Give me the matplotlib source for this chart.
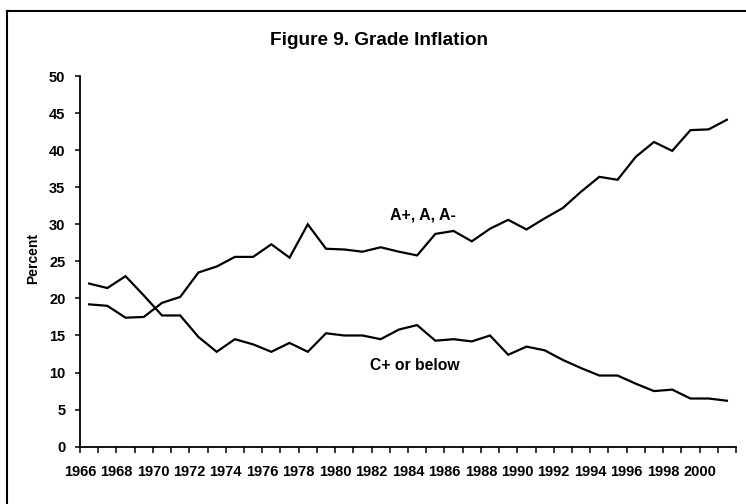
import matplotlib
matplotlib.use("Agg")
import matplotlib.pyplot as plt
from matplotlib.lines import Line2D

# ---- data ----
years = list(range(1966, 2002))
a_grades = [19.2, 19.0, 17.4, 17.5, 19.4, 20.2, 23.5, 24.3, 25.6, 25.6,
            27.3, 25.5, 30.0, 26.7, 26.6, 26.3, 26.9, 26.3, 25.8, 28.7,
            29.1, 27.7, 29.4, 30.6, 29.3, 30.8, 32.2, 34.4, 36.4, 36.0,
            39.1, 41.1, 39.9, 42.7, 42.8, 44.1]
c_grades = [22.0, 21.4, 23.0, 20.4, 17.7, 17.7, 14.8, 12.8, 14.5, 13.8,
            12.8, 14.0, 12.8, 15.3, 15.0, 15.0, 14.5, 15.8, 16.4, 14.3,
            14.5, 14.2, 15.0, 12.4, 13.5, 13.0, 11.7, 10.6, 9.6, 9.6,
            8.5, 7.5, 7.7, 6.5, 6.5, 6.2]
tick_years = list(range(1966, 2003))
label_years = list(range(1966, 2001, 2))
y_ticks = [0, 5, 10, 15, 20, 25, 30, 35, 40, 45, 50]
title = "Figure 9. Grade Inflation"
ylabel = "Percent"
label_a = "A+, A, A-"
label_c = "C+ or below"

plt.rcParams['font.family'] = ['Liberation Sans', 'DejaVu Sans']
plt.rcParams['font.weight'] = 'bold'

W, H = 746, 504
fig = plt.figure(figsize=(W / 100, H / 100), dpi=100)
ax = fig.add_axes([80 / W, 1 - 446.7 / H, (736 - 80) / W, (446.7 - 76) / H])

xs = [y + 0.5 for y in years]
ax.plot(xs, a_grades, color='black', lw=1.6, solid_joinstyle='miter')
ax.plot(xs, c_grades, color='black', lw=1.6, solid_joinstyle='miter')

ax.set_xlim(1966, 2002)
ax.set_ylim(0, 50)
ax.set_xticks(tick_years)
ax.set_xticklabels([str(y) if y in label_years else "" for y in tick_years])
ax.set_yticks(y_ticks)
ax.set_yticklabels([str(v) for v in y_ticks])

for s in ['top', 'right']:
    ax.spines[s].set_visible(False)
for s in ['left', 'bottom']:
    ax.spines[s].set_linewidth(1.3)
    ax.spines[s].set_color('black')

ax.tick_params(axis='x', direction='out', length=4, width=1.1, pad=9,
               labelsize=10.5, colors='black')
ax.tick_params(axis='y', direction='out', length=3.5, width=1.1, pad=7,
               labelsize=10.5, colors='black')
for lab in ax.get_xticklabels() + ax.get_yticklabels():
    lab.set_fontweight('bold')

ax.text(1984.8, 30.6, label_a, ha='center', va='baseline', fontsize=11.5,
        fontweight='bold')
ax.text(1984.4, 10.35, label_c, ha='center', va='baseline', fontsize=11.3,
        fontweight='bold')

fig.text(379 / W, 1 - 40.7 / H, title, ha='center', va='center',
         fontsize=13.7, fontweight='bold')
fig.text(33 / W, 1 - 258 / H, ylabel, ha='center', va='center',
         rotation=90, fontsize=10, fontweight='bold')

# outer frame (top and left edges visible)
fig.add_artist(Line2D([7 / W, 1.0], [1 - 11 / H, 1 - 11 / H],
                      transform=fig.transFigure, color='black', lw=1.5))
fig.add_artist(Line2D([7 / W, 7 / W], [0.0, 1 - 11 / H],
                      transform=fig.transFigure, color='black', lw=1.5))

fig.savefig("out.png", dpi=100)
